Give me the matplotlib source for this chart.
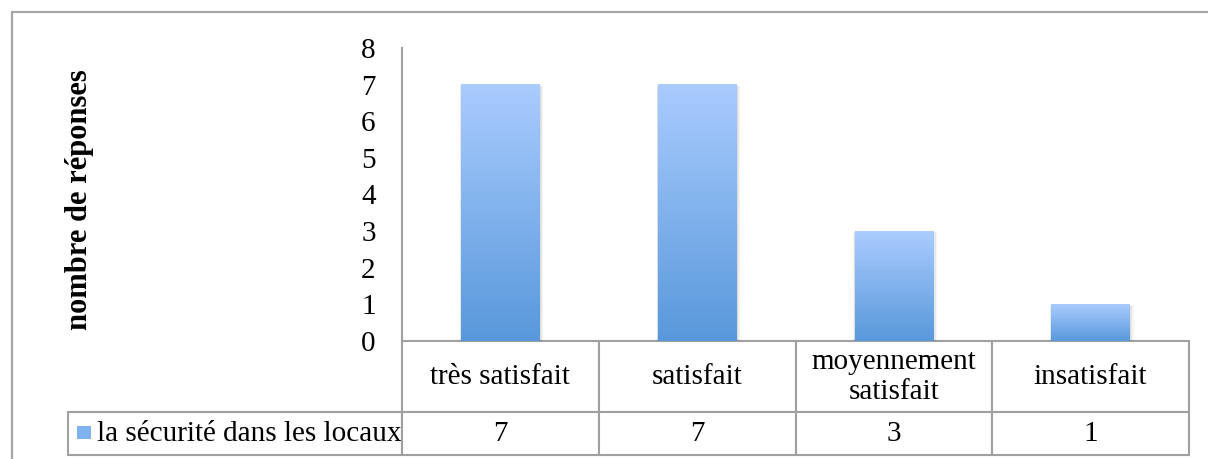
import numpy as np
import matplotlib
matplotlib.use('Agg')
import matplotlib.pyplot as plt
from matplotlib.patches import Rectangle
from matplotlib.table import Table

categories = ['très satisfait', 'satisfait', 'moyennement\nsatisfait', 'insatisfait']
values = [7, 7, 3, 1]
series_name = 'la sécurité dans les locaux'
y_label = 'nombre de réponses'
y_ticks = [0, 1, 2, 3, 4, 5, 6, 7, 8]

plt.rcParams['font.family'] = ['Liberation Serif', 'DejaVu Serif']
grey = '#A0A0A0'
fs = 21
top_col = np.array([0xAA, 0xCC, 0xFF]) / 255
bot_col = np.array([0x58, 0x98, 0xDA]) / 255

fig = plt.figure(figsize=(12.08, 4.59), dpi=100)
ax = fig.add_axes([402/1208, 1-341/459, 787/1208, 293/459])

# outer chart frame
fig.patches.append(Rectangle((12/1208, -0.1), 1.2, 1-12/459+0.1, transform=fig.transFigure,
                             fill=False, edgecolor='#A6A6A6', lw=1.6))

x = np.arange(len(categories))
bars = ax.bar(x, values, width=0.4, color='none', edgecolor='none')

# vertical gradient for every bar, plus a soft shadow
grad = np.linspace(0, 1, 256)[:, None, None]
img = top_col * (1 - grad) + bot_col * grad
for b in bars:
    x0, w, h = b.get_x(), b.get_width(), b.get_height()
    for k, a in enumerate([0.05, 0.05, 0.04]):
        d = 0.004 * (k + 1)
        ax.add_patch(Rectangle((x0 - d * 0.5, 0), w + 2 * d, h - 0.05 + d * 2,
                               color='#000000', alpha=a, lw=0, zorder=1))
    ax.imshow(img, extent=[x0, x0 + w, 0, h], aspect='auto', origin='upper', zorder=2)

ax.set_xlim(-0.5, len(categories) - 0.5)
ax.set_ylim(0, 8)
ax.set_yticks(y_ticks)
ax.set_yticklabels([str(t) for t in y_ticks], fontsize=fs)
ax.tick_params(axis='y', length=0, pad=19)
ax.set_xticks([])
for s in ['top', 'right', 'bottom']:
    ax.spines[s].set_visible(False)
ax.spines['left'].set_color(grey)
ax.spines['left'].set_linewidth(1.5)

# data table under the axis
row_w = 334 / 787
tbl = Table(ax, bbox=[0, -114/293, 1, 114/293])
for j, cat in enumerate(categories):
    tbl.add_cell(0, j, 0.25, 73, text=cat, loc='center')
    tbl.add_cell(1, j, 0.25, 44, text=str(values[j]), loc='center')
tbl.add_cell(1, -1, row_w, 44, text=series_name, loc='left')
tbl.auto_set_font_size(False)
tbl.set_fontsize(fs)
for (r, c), cell in tbl.get_celld().items():
    cell.set_edgecolor(grey)
    cell.set_linewidth(1.5)
    cell.PAD = 29 / 334 if c == -1 else 0.02
ax.add_table(tbl)

# legend key in the row label
ax.add_patch(Rectangle((77/1208, 1-439/459), 14/1208, 13/459, transform=fig.transFigure,
                       facecolor='#7FB2EE', edgecolor='none', clip_on=False))

fig.text(79/1208, 1-200/459, y_label, rotation=90, ha='center', va='center',
         fontsize=22, fontweight='bold')

fig.savefig('out.png', dpi=100)
